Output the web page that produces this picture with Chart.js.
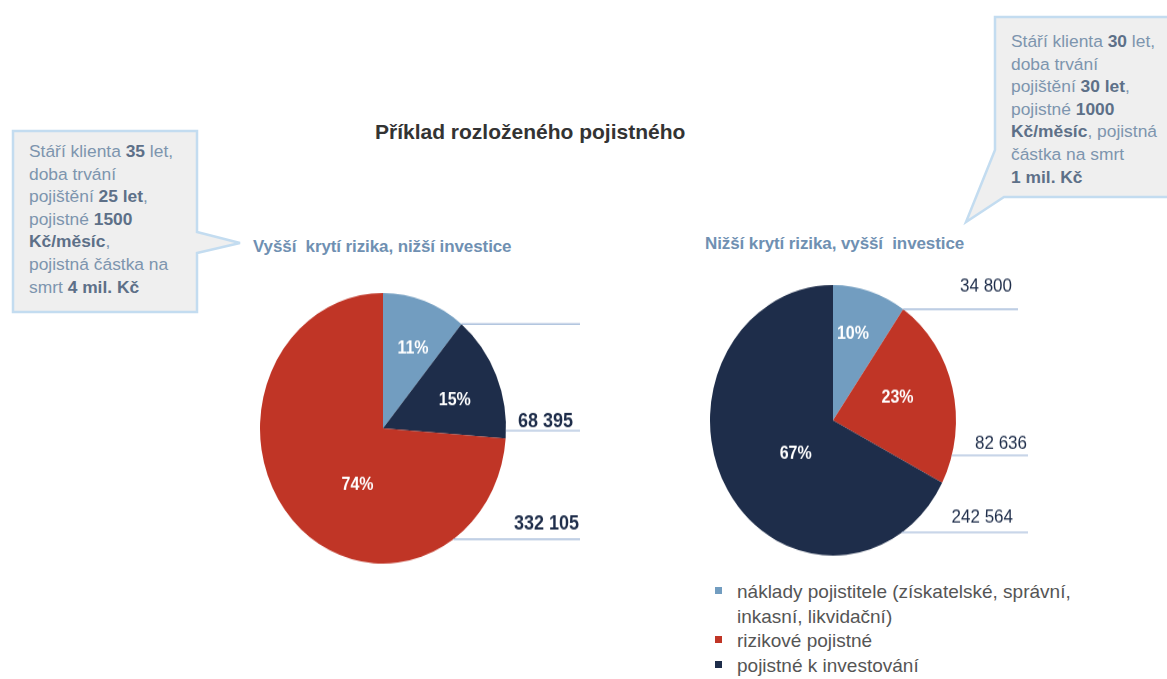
<!DOCTYPE html>
<html lang="cs">
<head>
<meta charset="utf-8">
<title>Příklad rozloženého pojistného</title>
<script src="https://cdn.jsdelivr.net/npm/chart.js@4.4.0/dist/chart.umd.min.js"></script>
<style>
  body { margin: 0; width: 1167px; height: 679px; background: #fff; position: relative; overflow: hidden;
         font-family: "Liberation Sans", Arial, sans-serif; }
  .abs { position: absolute; }
  #nadpis { left: 375px; top: 120px; font-weight: bold; font-size: 21px; color: #333; white-space: nowrap; }
  .podnadpis { font-weight: bold; font-size: 17px; color: #6f90b2; white-space: nowrap; letter-spacing: -0.1px; }
  .bublina { font-size: 17.4px; line-height: 22.6px; color: #7d95ae; white-space: nowrap; }
  .bublina b { color: #5d7088; }
  .obal { transform: scaleY(1.1); transform-origin: 0 0; }
  #legenda { left: 713px; top: 580px; font-size: 19px; line-height: 24.7px; color: #555; }
  #legenda .polozka { position: relative; padding-left: 24px; }
  #legenda .ctverec { position: absolute; left: 2px; top: 7px; width: 7px; height: 7px; }
</style>
</head>
<body>

<svg class="abs" style="left:0;top:0" width="1167" height="679">
  <polygon points="13,131 197,131 197,232 240,243 197,253 197,312 13,312"
           fill="#efefef" stroke="#c3dcf0" stroke-width="2.5"/>
  <polygon points="995,17 1175,17 1175,197 1004,197 966,222 995,150"
           fill="#efefef" stroke="#c3dcf0" stroke-width="2.5"/>
</svg>

<div class="abs bublina" style="left:29px;top:140px">
  Stáří klienta <b>35</b> let,<br>doba trvání<br>pojištění <b>25 let</b>,<br>pojistné <b>1500</b><br><b>Kč/měsíc</b>,<br>pojistná částka na<br>smrt <b>4 mil. Kč</b>
</div>
<div class="abs bublina" style="left:1011px;top:30px">
  Stáří klienta <b>30</b> let,<br>doba trvání<br>pojištění <b>30 let</b>,<br>pojistné <b>1000</b><br><b>Kč/měsíc</b>, pojistná<br>částka na smrt<br><b>1 mil. Kč</b>
</div>

<div id="nadpis" class="abs">Příklad rozloženého pojistného</div>
<div class="abs podnadpis" style="left:253px;top:237px">Vyšší&nbsp; krytí rizika, nižší investice</div>
<div class="abs podnadpis" style="left:705px;top:234px">Nižší krytí rizika, vyšší&nbsp; investice</div>

<div class="abs obal" style="left:260px;top:271px"><canvas id="grafLevy" width="360" height="276"></canvas></div>
<div class="abs obal" style="left:710px;top:240.5px"><canvas id="grafPravy" width="340" height="296"></canvas></div>

<div id="legenda" class="abs"></div>

<script>
// Kategorie a barvy (pořadí legendy)
const kategorie = ['náklady pojistitele (získatelské, správní,<br>inkasní, likvidační)', 'rizikové pojistné', 'pojistné k investování'];
const barvy = ['#729dc0', '#c03526', '#1e2d4a'];

// Levý graf: 35 let, 25 let, 1500 Kč/měsíc (řezy po směru hodin)
const levyKategorie = [0, 2, 1];
const levyHodnoty = [49500, 68395, 332105];
const levyPopisky = [false, true, true];

// Pravý graf: 30 let, 30 let, 1000 Kč/měsíc
const pravyKategorie = [0, 1, 2];
const pravyHodnoty = [34800, 82636, 242564];
const pravyPopisky = [true, true, true];

// formát čísel s mezerou jako oddělovačem tisíců
function formatCislo(v) {
    return String(v).replace(/\B(?=(\d{3})+(?!\d))/g, ' ');
}

// Plugin pro procenta v řezech a hodnoty s vodicími čarami
const popiskyPlugin = {
    id: 'popisky',
    afterDatasetsDraw(chart, args, opts) {
        const ctx = chart.ctx;
        const meta = chart.getDatasetMeta(0);
        const data = chart.data.datasets[0].data;
        const total = data.reduce((a, b) => a + b, 0);
        ctx.save();

        // procenta
        ctx.fillStyle = '#fff';
        ctx.font = 'bold 16px "Liberation Sans", Arial, sans-serif';
        ctx.textAlign = 'center';
        ctx.textBaseline = 'middle';
        meta.data.forEach((arc, i) => {
            const uhel = (arc.startAngle + arc.endAngle) / 2 + opts.posun[i] * Math.PI / 180;
            const r = arc.outerRadius * opts.polomer[i];
            ctx.fillText(Math.round(data[i] / total * 100) + '%', arc.x + Math.cos(uhel) * r, arc.y + Math.sin(uhel) * r);
        });

        // vodicí čáry a hodnoty
        const stred = meta.data[0];
        opts.cary.forEach((c, i) => {
            const a = (c.uhel - 90) * Math.PI / 180;
            const x0 = stred.x + Math.cos(a) * stred.outerRadius;
            const y0 = stred.y + Math.sin(a) * stred.outerRadius;
            ctx.strokeStyle = '#a9bedb';
            ctx.lineWidth = 1.3;
            ctx.beginPath();
            ctx.moveTo(x0, y0);
            ctx.lineTo(c.konec, y0);
            ctx.stroke();
            if (opts.zobrazit[i]) {
                ctx.fillStyle = '#1e2d4a';
                ctx.font = opts.pismo;
                ctx.textAlign = 'right';
                ctx.textBaseline = 'alphabetic';
                ctx.fillText(formatCislo(data[i]), c.konec - c.odsazeni, y0 - c.mezera);
            }
        });
        ctx.restore();
    }
};

function vytvorGraf(id, kat, hodnoty, popisky, vypln, nastaveni) {
    const canvas = document.getElementById(id);
    return new Chart(canvas.getContext('2d'), {
        type: 'pie',
        data: {
            labels: kat.map(k => kategorie[k]),
            datasets: [{
                data: hodnoty,
                backgroundColor: kat.map(k => barvy[k]),
                borderWidth: 0,
                hoverOffset: 0
            }]
        },
        options: {
            responsive: false,
            devicePixelRatio: 1,
            animation: false,
            layout: { padding: vypln },
            plugins: {
                legend: { display: false },
                tooltip: { enabled: false },
                popisky: Object.assign({ zobrazit: popisky }, nastaveni)
            }
        },
        plugins: [popiskyPlugin]
    });
}

vytvorGraf('grafLevy', levyKategorie, levyHodnoty, levyPopisky,
    { left: 0, right: 114, top: 20, bottom: 10 },
    {
        posun: [2.6, 3.3, -21],
        polomer: [0.64, 0.62, 0.47],
        pismo: 'bold 18px "Liberation Sans", Arial, sans-serif',
        cary: [
            { uhel: 39.6, konec: 320, odsazeni: 0, mezera: 4 },
            { uhel: 91, konec: 320, odsazeni: 7, mezera: 3.6 },
            { uhel: 145, konec: 320, odsazeni: 1, mezera: 9 }
        ]
    });

vytvorGraf('grafPravy', pravyKategorie, pravyHodnoty, pravyPopisky,
    { left: 0, right: 94, top: 40, bottom: 10 },
    {
        posun: [-3.2, -3.5, -7.7],
        polomer: [0.66, 0.55, 0.39],
        pismo: '17px "Liberation Sans", Arial, sans-serif',
        cary: [
            { uhel: 34.8, konec: 308, odsazeni: 6, mezera: 16.4 },
            { uhel: 105, konec: 318, odsazeni: 1, mezera: 5.5 },
            { uhel: 146, konec: 318, odsazeni: 15, mezera: 9 }
        ]
    });

// Legenda
const legenda = document.getElementById('legenda');
kategorie.forEach((k, i) => {
    const div = document.createElement('div');
    div.className = 'polozka';
    div.innerHTML = '<span class="ctverec" style="background:' + barvy[i] + '"></span>' + k;
    legenda.appendChild(div);
});
</script>
</body>
</html>
